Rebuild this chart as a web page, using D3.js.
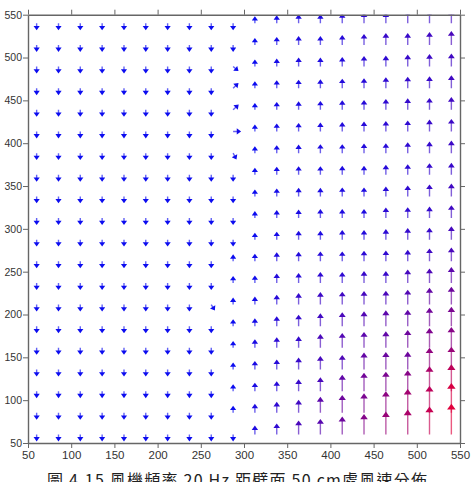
<!DOCTYPE html>
<html>
<head>
<meta charset="utf-8">
<script src="https://cdnjs.cloudflare.com/ajax/libs/d3/7.8.5/d3.min.js"></script>
<style>
  body { margin: 0; background: #fff; }
  .axis text { font-family: "Liberation Sans", Arial, sans-serif; fill: #333; }
  .axis path, .axis line { stroke: #666; }
</style>
</head>
<body>
<svg id="main"></svg>
<script>
var w = 472;
var h = 482;
var padLeft = 28;
var padRight = 12;
var padTop = 14.7;
var padBottom = 39;

// grid positions (cm)
var colX = [60, 85.3, 110.5, 135.8, 161.1, 186.3, 211.6, 236.8, 262.1, 287.4,
            312.6, 337.9, 363.2, 388.4, 413.7, 438.9, 464.2, 489.5, 514.7, 540];
var rowY = [540, 514.7, 489.5, 464.2, 438.9, 413.7, 388.4, 363.2, 337.9, 312.6,
            287.4, 262.1, 236.8, 211.6, 186.3, 161.1, 135.8, 110.5, 85.3, 60];
var tickVals = [50, 100, 150, 200, 250, 300, 350, 400, 450, 500, 550];
var caption = "圖 4.15 風機頻率 20 Hz 距壁面 50 cm處風速分佈";

// columns 1-9 blow straight down
var downSpeed = 0.35;

// column 10, rows top to bottom
var turnU = [0, 0, 0.27, 0.27, 0.28, 0.4, 0.17, 0, 0, 0,
             0, 0, 0, 0, 0, 0, 0, 0, 0, 0];
var turnV = [-0.35, -0.35, -0.23, 0.26, 0.27, 0, -0.32, -0.35, -0.35, -0.35,
             -0.35, 0.35, 0.35, 0.35, 0.35, 0.35, 0.35, 0.35, 0.35, -0.35];

// odd vector in column 9, row 14
var oddCol = 8, oddRow = 13, oddU = 0.18, oddV = -0.3;

// columns 11-20 blow up, speed per row (top to bottom)
var upSpeed = [
  [0.35, 0.40, 0.45, 0.45, 0.50, 0.55, 0.55, 0.60, 0.60, 0.65],
  [0.35, 0.40, 0.45, 0.45, 0.50, 0.55, 0.60, 0.60, 0.65, 0.70],
  [0.35, 0.40, 0.45, 0.45, 0.48, 0.53, 0.55, 0.60, 0.63, 0.65],
  [0.35, 0.40, 0.43, 0.45, 0.48, 0.50, 0.55, 0.58, 0.60, 0.65],
  [0.35, 0.40, 0.43, 0.45, 0.48, 0.50, 0.55, 0.58, 0.60, 0.65],
  [0.35, 0.40, 0.43, 0.45, 0.48, 0.50, 0.53, 0.55, 0.60, 0.63],
  [0.35, 0.40, 0.43, 0.45, 0.45, 0.48, 0.50, 0.55, 0.58, 0.63],
  [0.35, 0.40, 0.43, 0.43, 0.45, 0.45, 0.50, 0.53, 0.58, 0.60],
  [0.35, 0.40, 0.43, 0.43, 0.45, 0.45, 0.50, 0.55, 0.60, 0.65],
  [0.35, 0.40, 0.43, 0.45, 0.45, 0.45, 0.53, 0.55, 0.58, 0.65],
  [0.35, 0.40, 0.45, 0.45, 0.48, 0.48, 0.53, 0.58, 0.60, 0.68],
  [0.38, 0.45, 0.48, 0.50, 0.50, 0.53, 0.55, 0.58, 0.65, 0.70],
  [0.38, 0.48, 0.50, 0.55, 0.55, 0.60, 0.60, 0.68, 0.73, 0.80],
  [0.40, 0.50, 0.58, 0.63, 0.65, 0.68, 0.70, 0.75, 0.85, 0.90],
  [0.40, 0.50, 0.58, 0.65, 0.70, 0.75, 0.80, 0.83, 0.93, 0.98],
  [0.43, 0.53, 0.58, 0.70, 0.75, 0.80, 0.83, 0.90, 1.00, 1.05],
  [0.43, 0.50, 0.60, 0.68, 0.73, 0.85, 0.88, 0.90, 1.10, 1.15],
  [0.43, 0.50, 0.60, 0.70, 0.83, 0.93, 0.98, 1.05, 1.25, 1.35],
  [0.45, 0.55, 0.65, 0.80, 0.90, 0.98, 1.08, 1.20, 1.35, 1.50],
  [0.45, 0.55, 0.70, 0.78, 0.90, 1.03, 1.15, 1.25, 1.40, 1.55]
];

var vecs = [];
rowY.forEach(function(y, r) {
  colX.forEach(function(x, c) {
    var u, v;
    if (c < 9) { u = 0; v = -downSpeed; }
    else if (c == 9) { u = turnU[r]; v = turnV[r]; }
    else { u = 0; v = upSpeed[r][c - 10]; }
    if (c == oddCol && r == oddRow) { u = oddU; v = oddV; }
    vecs.push({x: x, y: y, u: u, v: v, s: Math.sqrt(u * u + v * v)});
  });
});

var svg = d3.select("#main")
  .attr("width", w)
  .attr("height", h);

var xScale = d3.scaleLinear().domain([50, 550]).range([padLeft, w - padRight]);
var yScale = d3.scaleLinear().domain([50, 550]).range([h - padBottom, padTop]);
// cm of arrow per m/s
var arrowScale = 23.2;

var colorScale = d3.scaleLinear()
  .domain([d3.min(vecs, function(d) { return d.s; }), d3.max(vecs, function(d) { return d.s; })])
  .range(["#0c0cf0", "#e0003c"]);

svg.append("clipPath").attr("id", "clip")
  .append("rect")
  .attr("x", padLeft).attr("y", padTop)
  .attr("width", w - padLeft - padRight)
  .attr("height", h - padTop - padBottom);

var plot = svg.append("g").attr("clip-path", "url(#clip)");

plot.selectAll("g.vec")
  .data(vecs)
  .enter()
  .append("g")
  .attr("class", "vec")
  .each(function(d) {
    var x0 = xScale(d.x), y0 = yScale(d.y);
    var x1 = xScale(d.x + d.u * arrowScale), y1 = yScale(d.y + d.v * arrowScale);
    var dx = x1 - x0, dy = y1 - y0;
    var len = Math.sqrt(dx * dx + dy * dy);
    var ux = dx / len, uy = dy / len;
    var hl = 3.8 + 0.07 * len;
    var hw = hl * 0.72;
    var bx = x1 - ux * hl, by = y1 - uy * hl;
    var col = colorScale(d.s);
    var g = d3.select(this);
    g.append("line")
      .attr("x1", x0).attr("y1", y0)
      .attr("x2", x1 - ux * hl * 0.5).attr("y2", y1 - uy * hl * 0.5)
      .attr("stroke", col)
      .attr("stroke-opacity", 0.65)
      .attr("stroke-width", 1.4);
    g.append("path")
      .attr("d", "M" + x1 + "," + y1 +
                 "L" + (bx - uy * hw) + "," + (by + ux * hw) +
                 "L" + (bx + uy * hw) + "," + (by - ux * hw) + "Z")
      .attr("fill", col);
  });

var xAxis = d3.axisBottom(xScale).tickValues(tickVals).tickSize(5).tickSizeOuter(0).tickPadding(3);
var yAxis = d3.axisLeft(yScale).tickValues(tickVals).tickSize(5).tickSizeOuter(0).tickPadding(1);

svg.append("g")
  .attr("class", "axis")
  .attr("transform", "translate(0," + (h - padBottom) + ")")
  .call(xAxis)
  .selectAll("text").style("font-size", "11.5px");

svg.append("g")
  .attr("class", "axis")
  .attr("transform", "translate(" + padLeft + ",0)")
  .call(yAxis)
  .selectAll("text").style("font-size", "10.5px");

svg.append("g")
  .attr("class", "axis")
  .attr("transform", "translate(0," + padTop + ")")
  .call(d3.axisTop(xScale).tickValues(tickVals).tickSize(5).tickSizeOuter(0).tickFormat(""));

svg.append("g")
  .attr("class", "axis")
  .attr("transform", "translate(" + (w - padRight) + ",0)")
  .call(d3.axisRight(yScale).tickValues(tickVals).tickSize(5).tickSizeOuter(0).tickFormat(""));

svg.selectAll(".axis path").attr("stroke-width", 1.4);

svg.append("text")
  .attr("x", 237)
  .attr("y", 486)
  .attr("text-anchor", "middle")
  .attr("textLength", 380)
  .attr("lengthAdjust", "spacing")
  .style("font-family", "'Noto Sans CJK TC', sans-serif")
  .style("font-size", "16px")
  .style("fill", "#222")
  .text(caption);
</script>
</body>
</html>
